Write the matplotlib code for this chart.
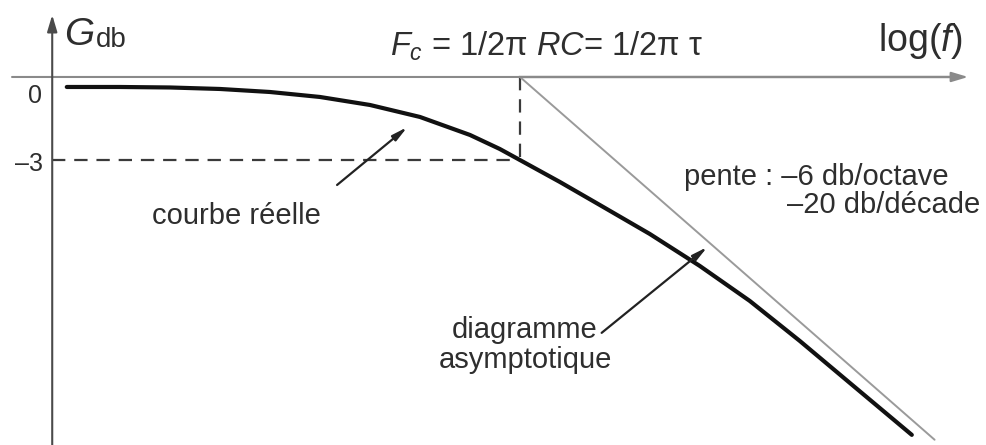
import matplotlib
matplotlib.use("Agg")
import matplotlib.pyplot as plt

plt.rcParams['font.family'] = ['Liberation Sans', 'DejaVu Sans']
plt.rcParams['mathtext.fontset'] = 'custom'
plt.rcParams['mathtext.rm'] = 'Liberation Sans'
plt.rcParams['mathtext.it'] = 'Liberation Sans:italic'

# log10(f/fc) en décades, gain en dB (schéma)
x_reel = [-0.716, -0.632, -0.553, -0.474, -0.395, -0.316, -0.237, -0.158,
          -0.079, -0.032, 0.0, 0.063, 0.126, 0.205, 0.284, 0.363, 0.442,
          0.521, 0.619]
g_reel = [-0.361, -0.361, -0.379, -0.433, -0.542, -0.722, -1.011, -1.444,
          -2.094, -2.599, -3.0, -3.791, -4.621, -5.668, -6.823, -8.087,
          -9.531, -11.047, -12.924]

x_asym = [0.0, 0.655]
g_asym = [0.0, -13.1]

fc = 0.0
g_coupure = -3.0

x_min, x_max = -0.8215, 0.7378
g_min, g_max = -13.29, 2.78
x_axe = -0.739

gris_txt = '#2e2e2e'

fig = plt.figure(figsize=(9.87, 4.45), dpi=100)
ax = fig.add_axes([0, 0, 1, 1])
ax.set_xlim(x_min, x_max)
ax.set_ylim(g_min, g_max)
ax.axis('off')

# axes avec flèches
ax.annotate('', xy=(0.708, 0), xytext=(-0.8025, 0),
            arrowprops=dict(arrowstyle='-|>,head_length=1.0,head_width=0.3',
                            color='#8a8a8a', lw=1.5, shrinkA=0, shrinkB=0))
ax.plot([fc, 0.69], [0, 0], color='#3a3a3a', lw=1.6)
ax.annotate('', xy=(x_axe, 2.24), xytext=(x_axe, g_min),
            arrowprops=dict(arrowstyle='-|>,head_length=1.0,head_width=0.3',
                            color='#4a4a4a', lw=1.5, shrinkA=0, shrinkB=0))

# pointillés à -3 dB et fc
ax.plot([x_axe, fc], [g_coupure, g_coupure], color='#3a3a3a', lw=1.6,
        dashes=(6, 4))
ax.plot([fc, fc], [0, g_coupure], color='#3a3a3a', lw=1.6, dashes=(6, 4))

# diagramme asymptotique et courbe réelle
ax.plot(x_asym, g_asym, color='#9a9a9a', lw=1.4, solid_capstyle='round')
ax.plot(x_reel, g_reel, color='#111111', lw=3.0, solid_capstyle='round',
        solid_joinstyle='round')

# textes
ax.text(-0.720, 1.155, 'G', fontsize=28, style='italic', color=gris_txt,
        ha='left', va='baseline')
ax.text(-0.670, 1.08, 'db', fontsize=20, color=gris_txt, ha='left', va='baseline')
ax.text(-0.766, -0.68, '0', fontsize=18, color=gris_txt, ha='center', va='center')
ax.text(-0.776, -3.15, '–3', fontsize=18, color=gris_txt, ha='center', va='center')
ax.text(-0.205, 0.76, r'$F_c$ = 1/2π $RC$= 1/2π τ', fontsize=23.5, color=gris_txt,
        ha='left', va='baseline')
ax.text(0.70, 0.94, r'log($f$)', fontsize=27, color=gris_txt, ha='right',
        va='baseline')
ax.text(0.259, -3.61, 'pente : –6 db/octave', fontsize=21, color=gris_txt,
        ha='left', va='center')
ax.text(0.727, -4.62, '–20 db/décade', fontsize=21, color=gris_txt,
        ha='right', va='center')
ax.text(-0.581, -5.02, 'courbe réelle', fontsize=21, color=gris_txt,
        ha='left', va='center')
ax.text(0.008, -9.68, 'diagramme\nasymptotique', fontsize=21, color=gris_txt,
        ha='center', va='center', linespacing=1.07)

fleche = dict(arrowstyle='-|>,head_length=0.9,head_width=0.2', color='#222222',
              lw=1.6, shrinkA=0, shrinkB=0)
ax.annotate('', xy=(-0.178, -1.81), xytext=(-0.289, -3.90), arrowprops=fleche)
ax.annotate('', xy=(0.296, -6.14), xytext=(0.129, -9.24), arrowprops=fleche)

fig.savefig('out.png', dpi=100)
